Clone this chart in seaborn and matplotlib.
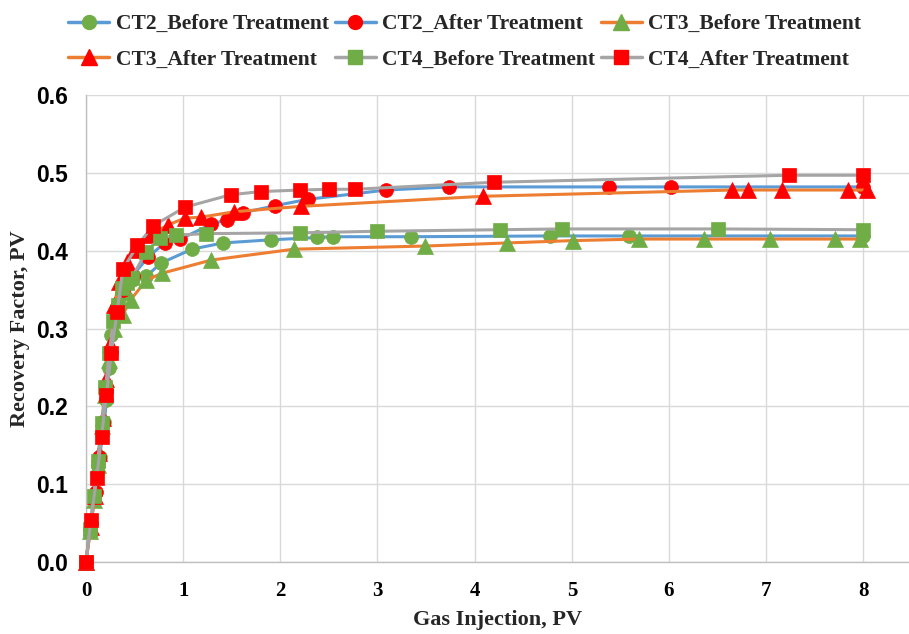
import matplotlib
matplotlib.use("Agg")
import matplotlib.pyplot as plt
import seaborn as sns
import pandas as pd
from matplotlib.lines import Line2D

# ---- data: gas injection (PV) vs recovery factor (PV) ----
ct2_before_x = [0, 0.04, 0.09, 0.12, 0.14, 0.19, 0.21, 0.24, 0.26, 0.31, 0.38, 0.47, 0.62, 0.77, 1.09, 1.41, 1.90, 2.38, 2.54, 3.34, 4.78, 5.59, 8.0]
ct2_before_y = [0, 0.043, 0.087, 0.124, 0.135, 0.18, 0.208, 0.249, 0.292, 0.318, 0.345, 0.362, 0.367, 0.384, 0.402, 0.41, 0.414, 0.417, 0.418, 0.418, 0.419, 0.419, 0.419]

ct2_after_x = [0, 0.05, 0.10, 0.13, 0.17, 0.21, 0.26, 0.31, 0.38, 0.48, 0.64, 0.81, 0.97, 1.29, 1.45, 1.62, 1.95, 2.28, 3.09, 3.74, 5.38, 6.02, 8.0]
ct2_after_y = [0, 0.05, 0.09, 0.135, 0.18, 0.22, 0.27, 0.32, 0.35, 0.368, 0.392, 0.41, 0.415, 0.434, 0.44, 0.449, 0.458, 0.466, 0.478, 0.482, 0.482, 0.482, 0.482]

ct3_before_x = [0, 0.04, 0.08, 0.12, 0.16, 0.20, 0.24, 0.29, 0.38, 0.46, 0.62, 0.78, 1.29, 2.14, 3.49, 4.33, 5.01, 5.69, 6.36, 7.04, 7.71, 7.97]
ct3_before_y = [0, 0.04, 0.08, 0.125, 0.175, 0.215, 0.26, 0.30, 0.318, 0.337, 0.362, 0.371, 0.388, 0.402, 0.406, 0.410, 0.413, 0.415, 0.415, 0.415, 0.415, 0.415]

ct3_after_x = [0, 0.05, 0.09, 0.13, 0.17, 0.21, 0.25, 0.29, 0.34, 0.42, 0.49, 0.66, 0.84, 1.02, 1.18, 1.52, 2.21, 4.09, 6.65, 6.81, 7.16, 7.84, 8.04]
ct3_after_y = [0, 0.045, 0.085, 0.14, 0.185, 0.235, 0.28, 0.33, 0.36, 0.385, 0.401, 0.42, 0.433, 0.442, 0.443, 0.45, 0.457, 0.470, 0.478, 0.478, 0.478, 0.478, 0.478]

ct4_before_x = [0, 0.04, 0.08, 0.12, 0.16, 0.20, 0.24, 0.28, 0.33, 0.37, 0.42, 0.47, 0.62, 0.76, 0.93, 1.24, 2.20, 2.99, 4.26, 4.90, 6.50, 8.0]
ct4_before_y = [0, 0.042, 0.085, 0.13, 0.178, 0.225, 0.268, 0.31, 0.33, 0.352, 0.358, 0.365, 0.399, 0.416, 0.42, 0.422, 0.423, 0.425, 0.427, 0.428, 0.428, 0.427]

ct4_after_x = [0, 0.05, 0.11, 0.16, 0.21, 0.26, 0.32, 0.38, 0.53, 0.69, 1.02, 1.49, 1.80, 2.20, 2.50, 2.77, 4.20, 7.23, 8.0]
ct4_after_y = [0, 0.054, 0.108, 0.161, 0.215, 0.269, 0.321, 0.376, 0.407, 0.432, 0.456, 0.472, 0.476, 0.478, 0.479, 0.479, 0.488, 0.497, 0.497]

series_names = ["CT2_Before Treatment", "CT2_After Treatment", "CT3_Before Treatment",
                "CT3_After Treatment", "CT4_Before Treatment", "CT4_After Treatment"]
series_x = [ct2_before_x, ct2_after_x, ct3_before_x, ct3_after_x, ct4_before_x, ct4_after_x]
series_y = [ct2_before_y, ct2_after_y, ct3_before_y, ct3_after_y, ct4_before_y, ct4_after_y]

x_ticks = [0, 1, 2, 3, 4, 5, 6, 7, 8]
y_ticks = [0.0, 0.1, 0.2, 0.3, 0.4, 0.5, 0.6]

# ---- styling ----
BLUE, ORANGE, GRAY = "#5b9bd5", "#ed7d31", "#a5a5a5"
GREEN, RED = "#70ad47", "#ff0000"
line_colors = [BLUE, BLUE, ORANGE, ORANGE, GRAY, GRAY]
marker_colors = [GREEN, RED, GREEN, RED, GREEN, RED]
markers = ["o", "o", "^", "^", "s", "s"]
marker_sizes = [10, 10, 11, 11, 9.5, 9.5]

sns.set_theme(style="white")
plt.rcParams["font.family"] = ["Liberation Serif", "DejaVu Serif"]

fig = plt.figure(figsize=(9.09, 6.34), dpi=100)
ax = fig.add_axes([0.0946, 0.1136, 0.9054, 0.7364])

frames = []
for name, xs, ys in zip(series_names, series_x, series_y):
    frames.append(pd.DataFrame({"series": name, "pv": xs, "rf": ys}))
df = pd.concat(frames, ignore_index=True)

for i, name in enumerate(series_names):
    sub = df[df["series"] == name]
    sns.lineplot(data=sub, x="pv", y="rf", ax=ax, sort=False, estimator=None,
                 color=line_colors[i], linewidth=2.2, zorder=3 + i,
                 marker=markers[i], markersize=marker_sizes[i],
                 markerfacecolor=marker_colors[i], markeredgecolor=marker_colors[i],
                 markeredgewidth=0.5, legend=False, clip_on=False)

ax.set_xlim(0, 8.47)
ax.set_ylim(0, 0.6)
ax.set_xticks(x_ticks)
ax.set_yticks(y_ticks)
ax.set_xticklabels([str(t) for t in x_ticks], fontsize=15, fontweight="bold",
                   family=["Liberation Serif"])
ax.set_yticklabels([f"{t:.1f}" for t in y_ticks], fontsize=16.5, fontweight="bold",
                   family=["Liberation Sans"])
ax.tick_params(axis="x", length=0, pad=14, colors="black")
ax.tick_params(axis="y", length=0, pad=13, colors="black")
ax.grid(True, color="#d9d9d9", linewidth=1.0)
ax.set_axisbelow(True)
for side in ["top", "right"]:
    ax.spines[side].set_visible(False)
for side in ["left", "bottom"]:
    ax.spines[side].set_color("#bfbfbf")
    ax.spines[side].set_linewidth(1.0)
    ax.spines[side].set_zorder(2)

ax.set_xlabel("Gas Injection, PV", fontsize=16, fontweight="bold", labelpad=6)
ax.set_ylabel("Recovery Factor, PV", fontsize=16, fontweight="bold", labelpad=4.5)

handles = [Line2D([0], [0], color=line_colors[i], linewidth=2.5, marker=markers[i],
                  markersize=marker_sizes[i], markerfacecolor=marker_colors[i],
                  markeredgecolor=marker_colors[i])
           for i in range(len(series_names))]
# legend fills column by column; reorder so rows read left to right
order = [0, 3, 1, 4, 2, 5]
fig.legend([handles[k] for k in order], [series_names[k] for k in order],
           loc="upper left", bbox_to_anchor=(0.054, 1.008),
           ncol=3, frameon=False, handlelength=1.9, handletextpad=0.3,
           columnspacing=0.27, labelspacing=0.72,
           prop={"family": "Liberation Serif", "weight": "bold", "size": 15.5})

fig.savefig("out.png", dpi=100, facecolor="white")
